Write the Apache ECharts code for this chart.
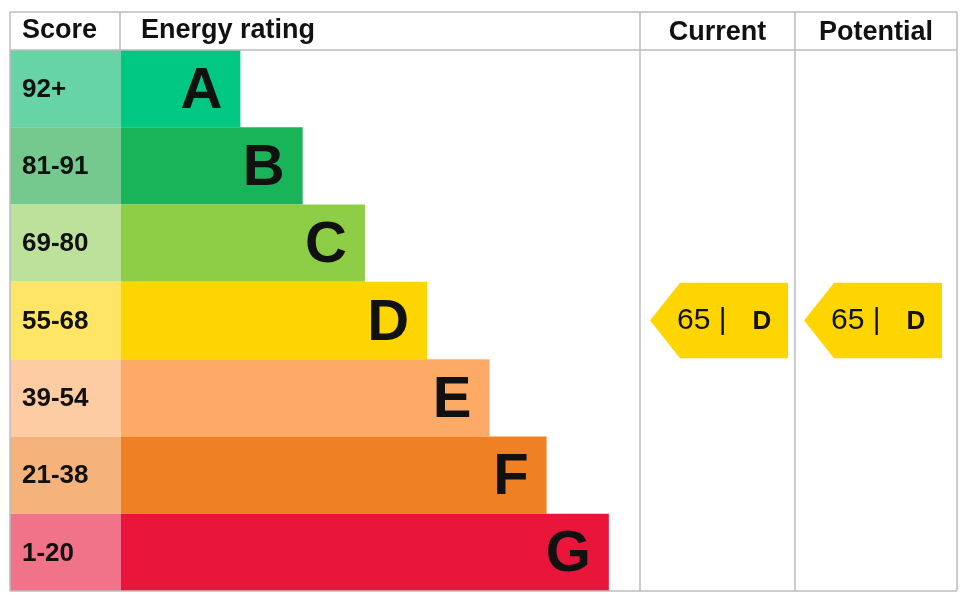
<!DOCTYPE html>
<html><head><meta charset="utf-8">
<script src="https://cdn.jsdelivr.net/npm/echarts@6/dist/echarts.min.js"></script>
<style>html,body{margin:0;padding:0;background:#fff}#c{width:970px;height:603px}</style>
</head><body><div id="c"></div>
<script>
const letters = ['A','B','C','D','E','F','G'];
const scoreLabels = ['92+','81-91','69-80','55-68','39-54','21-38','1-20'];
const barLengths = [23, 35, 47, 59, 71, 82, 94];
const barColors = ['#00c781','#19b459','#8dce46','#ffd500','#fcaa65','#ef8023','#e9153b'];
const scoreColors = ['#66d4a6','#75c98f','#bbe19a','#ffe566','#fdcca3','#f5b37b','#f07389'];
const currentScore = 65, potentialScore = 65;
const bandMin = [92,81,69,55,39,21,1];
function bandOf(s){for(let i=0;i<bandMin.length;i++) if(s>=bandMin[i]) return i; return 6;}

const F = 'Liberation Sans, Arial, sans-serif';
const chart = echarts.init(document.getElementById('c'));
const L=10,S=120,R=640,C=795,E=957,T=12,H=50,B=591;
const line=(x1,y1,x2,y2)=>({type:'line',shape:{x1,y1,x2,y2},style:{stroke:'#bdbdbd',lineWidth:1.5},z:10});
chart.setOption({
  animation:false,
  grid:{left:121,right:970-640,top:H,bottom:603-B},
  xAxis:{type:'value',min:0,max:100,show:false},
  yAxis:{type:'category',data:letters,inverse:true,show:false},
  graphic:[
    line(L,T,E,T),line(L,H,E,H),line(L,B,E,B),
    line(L,T,L,B),line(S,T,S,H),line(R,T,R,B),line(C,T,C,B),line(E,T,E,B),
    {type:'text',left:22,top:17,style:{text:'Score',font:'bold 27px '+F,fill:'#111'}},
    {type:'text',left:141,top:17,style:{text:'Energy rating',font:'bold 27px '+F,fill:'#111'}},
    {type:'text',x:(R+C)/2,y:33,style:{text:'Current',font:'bold 27px '+F,fill:'#111',align:'center',verticalAlign:'middle'}},
    {type:'text',x:(C+E)/2,y:33,style:{text:'Potential',font:'bold 27px '+F,fill:'#111',align:'center',verticalAlign:'middle'}}
  ],
  series:[{
    type:'custom',
    data:barLengths.map((v,i)=>[v,i]),
    renderItem:(params,api)=>{
      const i=api.value(1);
      const p0=api.coord([0,i]), p1=api.coord([api.value(0),i]);
      const h=api.size([0,1])[1];
      const top=p0[1]-h/2;
      return {type:'group',children:[
        {type:'rect',shape:{x:L,y:top,width:p0[0]-L,height:h},style:{fill:scoreColors[i]}},
        {type:'rect',shape:{x:p0[0],y:top,width:p1[0]-p0[0],height:h},style:{fill:barColors[i]}},
        {type:'text',x:22,y:p0[1]+1,style:{text:scoreLabels[i],font:'bold 26px '+F,fill:'#111',verticalAlign:'middle'}},
        {type:'text',x:p1[0]-18,y:p0[1]+3,style:{text:letters[i],font:'bold 58px '+F,fill:'#111',align:'right',verticalAlign:'middle'}}
      ]};
    }
  },{
    type:'custom',
    data:[[0,currentScore],[1,potentialScore]],
    renderItem:(params,api)=>{
      const col=api.value(0), s=api.value(1), b=bandOf(s);
      const p=api.coord([0,b]); const h=api.size([0,1])[1];
      const top=p[1]-h/2+1, bot=p[1]+h/2-1;
      const x0=col===0?650:804, x1=col===0?788:942;
      return {type:'group',children:[
        {type:'polygon',shape:{points:[[x0,p[1]],[x0+30,top],[x1,top],[x1,bot],[x0+30,bot]]},style:{fill:barColors[b]}},
        {type:'text',x:x0+27,y:p[1],style:{text:s+' |',font:'30px '+F,fill:'#111',verticalAlign:'middle'}},
        {type:'text',x:x1-26,y:p[1]+1,style:{text:letters[b],font:'bold 26px '+F,fill:'#111',align:'center',verticalAlign:'middle'}}
      ]};
    }
  }]
});
</script></body></html>
